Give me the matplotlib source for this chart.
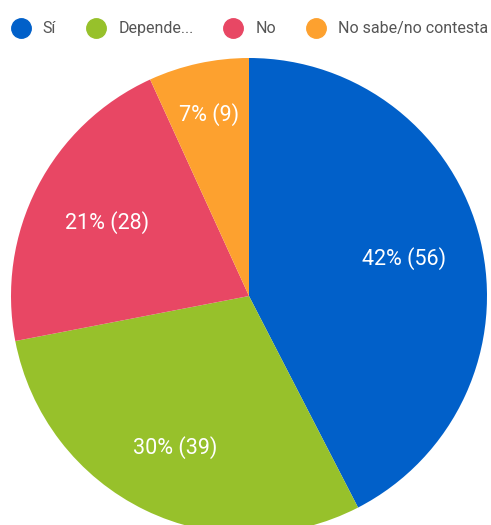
import numpy as np
import matplotlib
matplotlib.use("Agg")
import matplotlib.pyplot as plt
from matplotlib.lines import Line2D

plt.rcParams["font.family"] = ["Roboto", "DejaVu Sans"]

labels = ["Sí", "Depende...", "No", "No sabe/no contesta"]
counts = [56, 39, 28, 9]
colors = ["#0160c9", "#97c12b", "#e84764", "#fda12f"]

# how far out (fraction of radius) each slice label sits
label_dist = [0.67, 0.71, 0.67, 0.78]

W, H = 491, 525
CX, CY, R = 249, H - 296, 238

fig = plt.figure(figsize=(W / 100, H / 100), dpi=100)
ax = fig.add_axes([0, 0, 1, 1])

total = sum(counts)
wedges, _ = ax.pie(
    counts,
    colors=colors,
    center=(CX, CY),
    radius=R,
    startangle=90,
    counterclock=False,
    wedgeprops=dict(linewidth=0),
    frame=True,
)
ax.set_xlim(0, W)
ax.set_ylim(0, H)
ax.set_aspect("equal")
ax.axis("off")

for w, n, d in zip(wedges, counts, label_dist):
    mid = np.deg2rad((w.theta1 + w.theta2) / 2)
    pct = 100 * n / total
    ax.text(CX + d * R * np.cos(mid), CY + d * R * np.sin(mid),
            f"{pct:.0f}% ({n})", color="white", fontsize=15.5,
            ha="center", va="center")

handles = [Line2D([], [], marker="o", linestyle="none", markersize=14,
                  markerfacecolor=c, markeredgecolor=c) for c in colors]
fig.legend(handles, labels, loc="upper left", bbox_to_anchor=(0.0, 0.981),
           ncol=4, frameon=False, fontsize=11.5, labelcolor="#555555",
           handletextpad=0.78, columnspacing=1.9, borderaxespad=0.3,
           borderpad=0.4, handlelength=1.2)

fig.savefig("out.png", dpi=100)
